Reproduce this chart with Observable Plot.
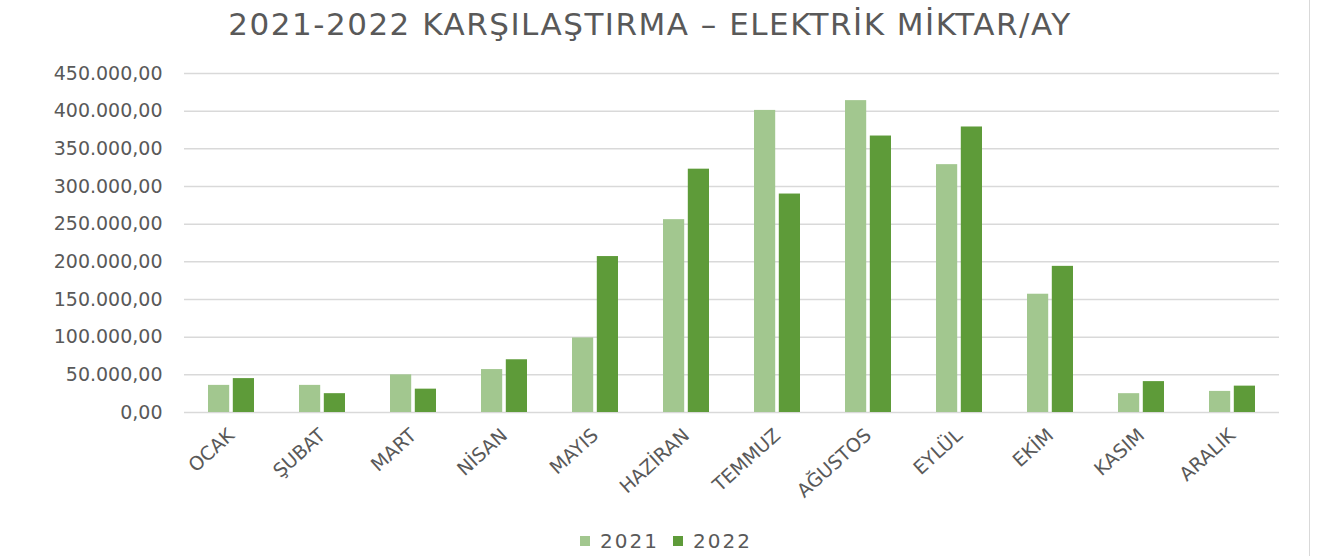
<!DOCTYPE html>
<html>
<head>
<meta charset="utf-8">
<script src="https://cdn.jsdelivr.net/npm/d3@7"></script>
<script src="https://cdn.jsdelivr.net/npm/@observablehq/plot@0.6"></script>
<style>
  body { margin: 0; background: #fff; }
  #wrap { position: relative; width: 1334px; height: 556px; font-family: "DejaVu Sans", sans-serif; color: #595959; overflow: hidden; }
  #border { position: absolute; top: 0; left: 1309px; width: 1px; height: 556px; background: #d9d9d9; }
  #title { position: absolute; top: 9px; left: 0; width: 1300px; text-align: center; font-size: 31px; line-height: 31px; letter-spacing: 1.5px; white-space: nowrap; }
  #chart { position: absolute; top: 55px; left: 0; width: 1334px; }
  #chart svg { max-width: none; }
  #legend { position: absolute; top: 528px; left: 0; width: 1332px; height: 26px; display: flex; justify-content: center; align-items: center; font-size: 20px; letter-spacing: 2px; }
  .item { display: flex; align-items: center; margin: 0 7px; }
  .sw { width: 10px; height: 10px; margin-right: 10px; }
</style>
</head>
<body>
<div id="wrap">
  <div id="border"></div>
  <div id="title">2021-2022 KARŞILAŞTIRMA – ELEKTRİK MİKTAR/AY</div>
  <div id="chart"></div>
  <div id="legend"></div>
</div>
<script>
const months = ["OCAK", "ŞUBAT", "MART", "NİSAN", "MAYIS", "HAZİRAN", "TEMMUZ", "AĞUSTOS", "EYLÜL", "EKİM", "KASIM", "ARALIK"];
const values2021 = [36000, 36000, 50000, 57000, 99000, 256000, 401000, 414000, 329000, 157000, 25000, 28000];
const values2022 = [45000, 25000, 31000, 70000, 207000, 323000, 290000, 367000, 379000, 194000, 41000, 35000];
const years = ["2021", "2022"];
const colors = ["#a2c78f", "#5e9b39"];
const yTicks = [0, 50000, 100000, 150000, 200000, 250000, 300000, 350000, 400000, 450000];

const rows2021 = months.map((m, i) => ({month: m, value: values2021[i]}));
const rows2022 = months.map((m, i) => ({month: m, value: values2022[i]}));

const fmt = d3.formatLocale({decimal: ",", thousands: ".", grouping: [3], currency: ["", ""]}).format(",.2f");

const chart = Plot.plot({
  width: 1334,
  height: 470,
  marginTop: 18,
  marginBottom: 113,
  marginLeft: 184,
  marginRight: 55,
  style: {background: "transparent", fontFamily: "DejaVu Sans", color: "#595959"},
  x: {domain: months, paddingInner: 0.5, paddingOuter: 0.25},
  y: {domain: [0, 450000]},
  marks: [
    Plot.ruleY(yTicks, {stroke: "#d9d9d9", strokeWidth: 1.5}),
    Plot.barY(rows2021, {x: "month", y: "value", fill: colors[0], insetRight: 24.8}),
    Plot.barY(rows2022, {x: "month", y: "value", fill: colors[1], insetLeft: 24.8}),
    Plot.axisY(yTicks, {tickSize: 0, tickPadding: 22, tickFormat: fmt, fontSize: 19, fill: "#595959", label: null}),
    Plot.axisX({tickSize: 0, tickRotate: -42, tickPadding: 20, fontSize: 19, fill: "#595959", label: null})
  ]
});
document.getElementById("chart").appendChild(chart);

const legend = document.getElementById("legend");
years.forEach((y, i) => {
  const item = document.createElement("div");
  item.className = "item";
  const sw = document.createElement("div");
  sw.className = "sw";
  sw.style.background = colors[i];
  const t = document.createElement("span");
  t.textContent = y;
  item.appendChild(sw);
  item.appendChild(t);
  legend.appendChild(item);
});
</script>
</body>
</html>
